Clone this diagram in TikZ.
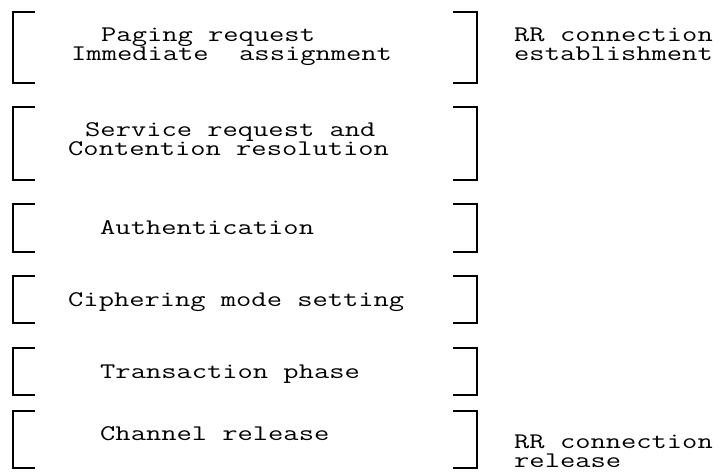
\documentclass[tikz,border=0pt]{standalone}
\usepackage{fontspec}
\usepackage{graphicx}
\usepackage{xcolor}
\definecolor{Ink}{HTML}{000000}
\newcommand{\widetext}[1]{\scalebox{1.33}[1]{#1}}

\begin{document}
\begin{tikzpicture}[x=1pt,y=-1pt,
    brk/.style={Ink,line width=1.2pt},
    brktick/.style={Ink,line width=2pt},
    lbl/.style={font=\ttfamily\fontsize{22.3}{18}\selectfont,Ink,anchor=base west,
      inner sep=0pt,text height=13pt,text depth=4pt}]
  \useasboundingbox (0,0) rectangle (727,475);
  % brackets round each phase
  \foreach \t/\b in {12/83, 107/180, 204/252, 276/323, 348/395, 411/468} {
    \draw[brk] (35,\t) -- (13,\t) -- (13,\b) -- (35,\b);
    \draw[brktick] (18,\t) -- (35,\t) (18,\b) -- (35,\b);
    \draw[brk] (453,\t) -- (477,\t) -- (477,\b) -- (453,\b);
    \draw[brktick] (453,\t) -- (471,\t) (453,\b) -- (471,\b);
  }
  \node[lbl] (page) at (101,41) {\widetext{Paging request}};
  \node[lbl] (immed) at (71,60.5) {\widetext{Immediate\ \ assignment}};
  \node[lbl] (serv) at (85,136.5) {\widetext{Service request and}};
  \node[lbl] (cont) at (68,155) {\widetext{Contention resolution}};
  \node[lbl] (auth) at (100,234) {\widetext{Authentication}};
  \node[lbl] (ciph) at (68,306) {\widetext{Ciphering mode setting}};
  \node[lbl] (trans) at (100,378.5) {\widetext{Transaction phase}};
  \node[lbl] (chan) at (100,440) {\widetext{Channel release}};
  % right hand labels
  \node[lbl] (rrest) at (514,41) {\widetext{RR connection}};
  \node[lbl] (est) at (514,60.5) {\widetext{establishment}};
  \node[lbl] (rrrel) at (514,448.5) {\widetext{RR connection}};
  \node[lbl] (rel) at (514,467.5) {\widetext{release}};
\end{tikzpicture}
\end{document}
